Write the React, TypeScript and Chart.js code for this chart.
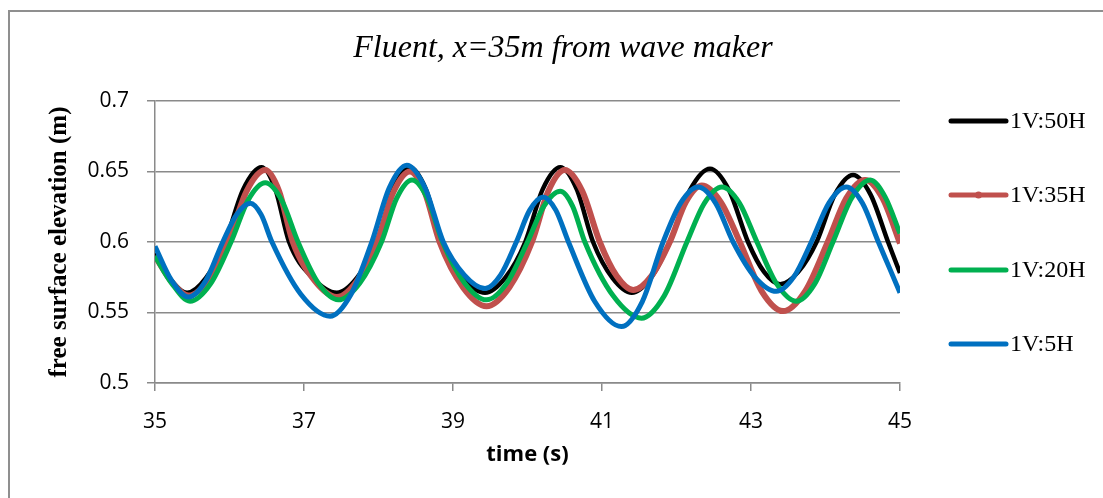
import React, { useEffect, useRef } from "react";
import { Chart, registerables } from "chart.js";

Chart.register(...registerables);

// Free surface elevation traces (time in s, elevation in m)
const slope50Time = [35, 35.2, 35.43, 35.685, 35.94, 36.185, 36.43, 36.615, 36.8, 37.12, 37.44, 37.71, 37.98, 38.2, 38.42, 38.635, 38.85, 39.14, 39.43, 39.7, 39.97, 40.205, 40.44, 40.66, 40.88, 41.14, 41.4, 41.655, 41.91, 42.18, 42.45, 42.705, 42.96, 43.175, 43.39, 43.635, 43.88, 44.125, 44.37, 44.605, 44.84, 45];
const slope50Elev = [0.592, 0.574, 0.564, 0.5745, 0.6, 0.6375, 0.653, 0.6375, 0.6, 0.5745, 0.564, 0.5745, 0.6, 0.6375, 0.653, 0.6375, 0.6, 0.5745, 0.564, 0.5745, 0.6, 0.6375, 0.653, 0.6375, 0.6, 0.5745, 0.564, 0.5745, 0.6, 0.6368, 0.652, 0.6368, 0.6, 0.5788, 0.57, 0.5788, 0.6, 0.6336, 0.6475, 0.6336, 0.6, 0.578];

const slope35Time = [35, 35.22, 35.45, 35.715, 35.98, 36.23, 36.48, 36.665, 36.85, 37.145, 37.44, 37.71, 37.98, 38.2, 38.42, 38.62, 38.82, 39.135, 39.45, 39.755, 40.06, 40.28, 40.5, 40.735, 40.97, 41.195, 41.42, 41.665, 41.91, 42.125, 42.34, 42.595, 42.85, 43.14, 43.43, 43.73, 44.03, 44.28, 44.53, 44.765, 45];
const slope35Elev = [0.59, 0.572, 0.562, 0.5731, 0.6, 0.6361, 0.651, 0.6361, 0.6, 0.5724, 0.561, 0.5724, 0.6, 0.6354, 0.65, 0.6354, 0.6, 0.5678, 0.5545, 0.5678, 0.6, 0.6361, 0.651, 0.6361, 0.6, 0.576, 0.566, 0.576, 0.6, 0.6283, 0.64, 0.6283, 0.6, 0.5654, 0.551, 0.5654, 0.6, 0.6311, 0.644, 0.6311, 0.599];

const slope20Time = [35, 35.22, 35.47, 35.745, 36.02, 36.25, 36.48, 36.7, 36.92, 37.19, 37.46, 37.75, 38.04, 38.245, 38.45, 38.655, 38.86, 39.155, 39.45, 39.725, 40.0, 40.22, 40.44, 40.605, 40.77, 41.15, 41.53, 41.835, 42.14, 42.375, 42.61, 42.845, 43.08, 43.345, 43.61, 43.855, 44.1, 44.35, 44.6, 44.8, 45];
const slope20Elev = [0.59, 0.571, 0.558, 0.5703, 0.6, 0.6297, 0.642, 0.6297, 0.6, 0.571, 0.559, 0.571, 0.6, 0.6311, 0.644, 0.6311, 0.6, 0.571, 0.559, 0.571, 0.6, 0.6255, 0.636, 0.6255, 0.6, 0.5618, 0.546, 0.5618, 0.6, 0.6276, 0.639, 0.6276, 0.6, 0.5703, 0.558, 0.5703, 0.6, 0.6311, 0.644, 0.632, 0.606];

const slope5Time = [35, 35.22, 35.45, 35.68, 35.91, 36.095, 36.28, 36.425, 36.57, 36.96, 37.35, 37.63, 37.91, 38.145, 38.38, 38.625, 38.87, 39.15, 39.43, 39.64, 39.85, 40.03, 40.21, 40.38, 40.55, 40.905, 41.26, 41.54, 41.82, 42.055, 42.29, 42.525, 42.76, 43.05, 43.34, 43.575, 43.81, 44.045, 44.28, 44.495, 44.71, 44.855, 45];
const slope5Elev = [0.597, 0.573, 0.561, 0.5724, 0.6, 0.6194, 0.6275, 0.6194, 0.6, 0.5628, 0.5474, 0.5628, 0.6, 0.6385, 0.6545, 0.6385, 0.6, 0.5767, 0.567, 0.5767, 0.6, 0.6226, 0.632, 0.6226, 0.6, 0.5576, 0.54, 0.5576, 0.6, 0.6276, 0.639, 0.6276, 0.6, 0.5753, 0.565, 0.5753, 0.6, 0.6276, 0.639, 0.6276, 0.6, 0.582, 0.564];

const seriesNames = ["1V:50H", "1V:35H", "1V:20H", "1V:5H"];
const seriesColors = ["#000000", "#C0504D", "#00B050", "#0070C0"];
const seriesWidths = [4.5, 6, 5, 5];

const chartTitle = "Fluent, x=35m from wave maker";
const xAxisTitle = "time (s)";
const yAxisTitle = "free surface elevation (m)";
const xTickValues = [35, 37, 39, 41, 43, 45];
const yTickValues = [0.5, 0.55, 0.6, 0.65, 0.7];

const GRID = "#8a8a8a";

const toPoints = (t: number[], v: number[]) => t.map((x, i) => ({ x, y: v[i] }));

// Title and right-hand legend, drawn on the canvas
const decorPlugin = {
  id: "decor",
  afterDraw(chart: any) {
    const ctx = chart.ctx as CanvasRenderingContext2D;
    ctx.save();
    ctx.fillStyle = "#000";
    ctx.textAlign = "center";
    ctx.textBaseline = "middle";
    ctx.font = "italic 32px 'Liberation Serif'";
    ctx.fillText(chartTitle, 563, 49);

    const rowY = [121, 195, 270, 344];
    const x0 = 951;
    const x1 = 1006;
    chart.data.datasets.forEach((ds: any, i: number) => {
      const y = rowY[i];
      ctx.strokeStyle = ds.borderColor;
      ctx.lineWidth = 5;
      ctx.lineCap = "round";
      ctx.beginPath();
      ctx.moveTo(x0, y);
      ctx.lineTo(x1, y);
      ctx.stroke();
      if (ds.legendMarker) {
        ctx.fillStyle = ds.borderColor;
        ctx.beginPath();
        ctx.arc((x0 + x1) / 2, y, 3.5, 0, Math.PI * 2);
        ctx.fill();
      }
      ctx.fillStyle = "#000";
      ctx.textAlign = "left";
      ctx.font = "24px 'Liberation Serif'";
      ctx.fillText(ds.label, 1010, y + 1);
    });
    ctx.restore();
  },
};

export default function App() {
  const canvasRef = useRef<HTMLCanvasElement | null>(null);

  useEffect(() => {
    if (!canvasRef.current) return;
    const traces = [
      toPoints(slope50Time, slope50Elev),
      toPoints(slope35Time, slope35Elev),
      toPoints(slope20Time, slope20Elev),
      toPoints(slope5Time, slope5Elev),
    ];
    const chart = new Chart(canvasRef.current, {
      type: "line",
      data: {
        datasets: traces.map((data, i) => ({
          label: seriesNames[i],
          data,
          borderColor: seriesColors[i],
          backgroundColor: seriesColors[i],
          borderWidth: seriesWidths[i],
          pointRadius: 0,
          fill: false,
          cubicInterpolationMode: "monotone",
          order: 3 - i,
          legendMarker: i === 1,
        })) as any,
      },
      options: {
        responsive: false,
        animation: false,
        layout: { padding: { left: 40, top: 101, right: 203, bottom: 25 } },
        plugins: {
          legend: { display: false },
          title: { display: false },
          tooltip: { enabled: false },
        },
        scales: {
          x: {
            type: "linear",
            min: 35,
            max: 45,
            afterFit(scale: any) {
              scale.height = 90;
            },
            afterBuildTicks(scale: any) {
              scale.ticks = xTickValues.map((value) => ({ value }));
            },
            grid: {
              drawOnChartArea: false,
              drawTicks: true,
              tickLength: 8,
              color: GRID,
              lineWidth: 1.5,
            },
            border: { color: GRID, width: 1.5 },
            ticks: {
              padding: 18,
              color: "#000",
              font: { family: "'Open Sans'", size: 21 },
              maxRotation: 0,
            },
            title: {
              display: true,
              text: xAxisTitle,
              color: "#000",
              font: { family: "'Open Sans'", size: 22, weight: "bold" },
              padding: { top: 0, bottom: 5 },
            },
          },
          y: {
            min: 0.5,
            max: 0.7,
            afterFit(scale: any) {
              scale.width = 115;
            },
            afterBuildTicks(scale: any) {
              scale.ticks = yTickValues.map((value) => ({ value }));
            },
            grid: {
              color: GRID,
              lineWidth: 1.5,
              tickLength: 8,
            },
            border: { color: GRID, width: 1.5 },
            ticks: {
              padding: 18,
              color: "#000",
              font: { family: "'Open Sans'", size: 21 },
              callback: (v: any) => String(Number(Number(v).toFixed(2))),
            },
            title: {
              display: true,
              text: yAxisTitle,
              color: "#000",
              font: { family: "'Liberation Serif'", size: 25, weight: "bold" },
              padding: { top: 5, bottom: 0 },
            },
          },
        },
      },
      plugins: [decorPlugin],
    });
    return () => chart.destroy();
  }, []);

  return (
    <div style={{ position: "fixed", left: 0, top: 0, width: 1103, height: 498, overflow: "hidden", background: "#fff" }}>
      <div
        style={{
          position: "absolute",
          left: 8,
          top: 10,
          width: 1200,
          height: 600,
          borderLeft: "2px solid #8f8f8f",
          borderTop: "2px solid #8f8f8f",
        }}
      />
      <canvas ref={canvasRef} width={1103} height={498} style={{ position: "absolute", left: 0, top: 0 }} />
    </div>
  );
}
